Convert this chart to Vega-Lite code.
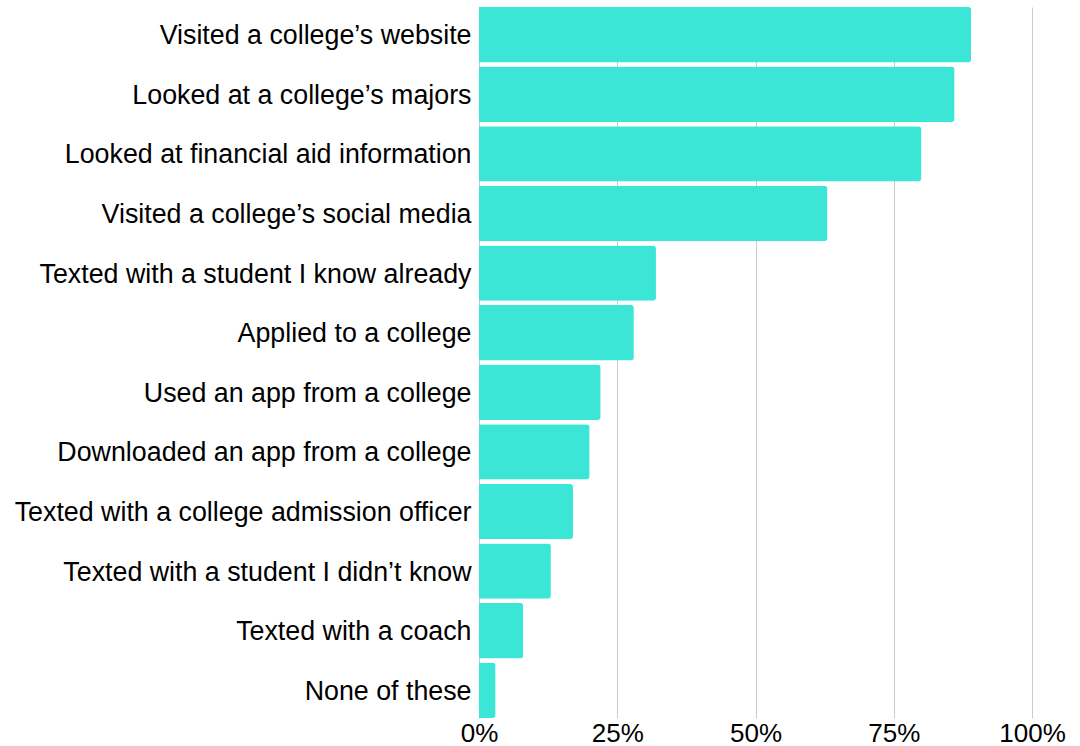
{
  "$schema": "https://vega.github.io/schema/vega-lite/v6.json",
  "width": 553,
  "height": 711,
  "autosize": {"type": "none"},
  "padding": {"left": 479, "top": 7, "right": 48, "bottom": 28},
  "background": "white",
  "config": {"view": {"stroke": null}, "font": "Liberation Sans"},
  "data": {"values": [
    {"activity": "Visited a college’s website", "pct": 0.89},
    {"activity": "Looked at a college’s majors", "pct": 0.86},
    {"activity": "Looked at financial aid information", "pct": 0.80},
    {"activity": "Visited a college’s social media", "pct": 0.63},
    {"activity": "Texted with a student I know already", "pct": 0.32},
    {"activity": "Applied to a college", "pct": 0.28},
    {"activity": "Used an app from a college", "pct": 0.22},
    {"activity": "Downloaded an app from a college", "pct": 0.20},
    {"activity": "Texted with a college admission officer", "pct": 0.17},
    {"activity": "Texted with a student I didn’t know", "pct": 0.13},
    {"activity": "Texted with a coach", "pct": 0.08},
    {"activity": "None of these", "pct": 0.03}
  ]},
  "mark": {"type": "bar", "color": "#3be6d6", "cornerRadiusEnd": 3},
  "encoding": {
    "y": {
      "field": "activity", "type": "nominal", "sort": null,
      "scale": {"paddingInner": 0.07, "paddingOuter": 0},
      "axis": {"title": null, "domain": false, "ticks": false, "labelFontSize": 26.8, "labelColor": "#000000", "labelPadding": 8, "labelLimit": 600, "labelOffset": 1.5, "labelFont": "Liberation Sans"}
    },
    "x": {
      "field": "pct", "type": "quantitative",
      "scale": {"domain": [0, 1], "nice": false},
      "axis": {"title": null, "domain": false, "ticks": false, "format": ".0%", "values": [0, 0.25, 0.5, 0.75, 1], "labelFontSize": 26, "labelColor": "#000000", "labelPadding": 2, "labelFont": "Liberation Sans", "grid": true, "gridColor": "#cccccc", "gridWidth": 1, "labelFlush": false}
    }
  }
}
